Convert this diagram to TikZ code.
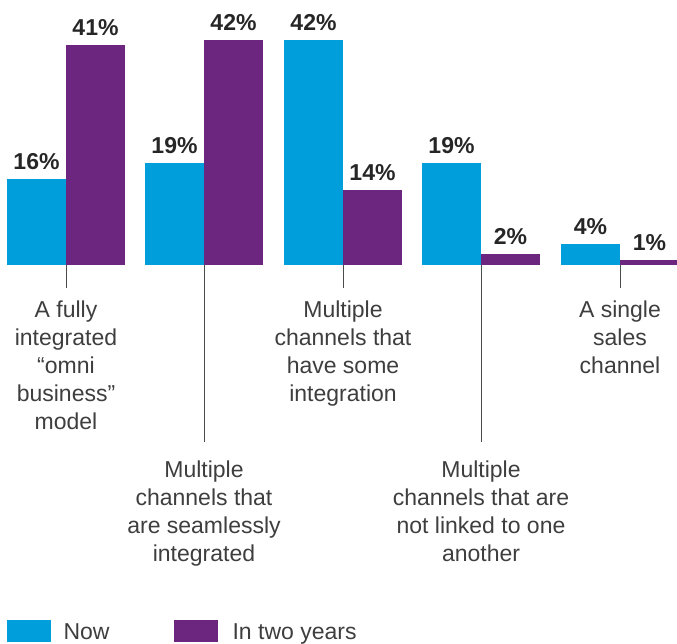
\documentclass[tikz,border=0pt]{standalone}
\usepackage{fontspec}
\setmainfont{Liberation Sans}
\usetikzlibrary{positioning}
\definecolor{nowblue}{RGB}{0,158,219}
\definecolor{laterpurple}{RGB}{109,38,128}
\definecolor{txtgray}{RGB}{62,62,62}
\tikzset{bar/.style={anchor=south west,inner sep=0pt,outer sep=0pt,minimum width=59pt,minimum height=#1*5.357pt}}
\tikzset{nowbar/.style={bar=#1,fill=nowblue}}
\tikzset{laterbar/.style={bar=#1,fill=laterpurple}}
\tikzset{pct/.style={inner sep=0pt,font=\fontsize{23}{28}\selectfont\bfseries,text=black!85}}
\tikzset{cat/.style={inner sep=0pt,align=center,font=\fontsize{23}{28}\selectfont,text=txtgray}}
\tikzset{leader/.style={draw=black!70,line width=1pt}}
\tikzset{keybox/.style={anchor=north west,inner sep=0pt,minimum width=44pt,minimum height=22pt}}
\tikzset{keytext/.style={inner sep=0pt,font=\fontsize{23}{28}\selectfont,text=txtgray,text height=17pt,text depth=0pt}}

\begin{document}
\begin{tikzpicture}[x=1pt,y=-1pt]
\useasboundingbox (0,0) rectangle (677,644);

% bars
\node[nowbar=16] (n1) at (7,265) {};
\node[laterbar=41] (t1) at (66,265) {};
\node[nowbar=19] (n2) at (145,265) {};
\node[laterbar=42] (t2) at (204,265) {};
\node[nowbar=42] (n3) at (284,265) {};
\node[laterbar=14] (t3) at (343,265) {};
\node[nowbar=19] (n4) at (422,265) {};
\node[laterbar=2] (t4) at (481,265) {};
\node[nowbar=4] (n5) at (561,265) {};
\node[laterbar=1] (t5) at (620,265) {};

% values
\node[pct,above=9pt of n1] (pn1) {16\%};
\node[pct,above=9pt of t1] (pt1) {41\%};
\node[pct,above=9pt of n2] (pn2) {19\%};
\node[pct,above=9pt of t2] (pt2) {42\%};
\node[pct,above=9pt of n3] (pn3) {42\%};
\node[pct,above=9pt of t3] (pt3) {14\%};
\node[pct,above=9pt of n4] (pn4) {19\%};
\node[pct,above=9pt of t4] (pt4) {2\%};
\node[pct,above=9pt of n5] (pn5) {4\%};
\node[pct,above=9pt of t5] (pt5) {1\%};

% categories
\coordinate (e1) at (66,288);
\coordinate (e2) at (204,442);
\coordinate (e3) at (343,288);
\coordinate (e4) at (481,442);
\coordinate (e5) at (620,288);
\draw[leader] (t1.south west) -- (e1);
\draw[leader] (t2.south west) -- (e2);
\draw[leader] (t3.south west) -- (e3);
\draw[leader] (t4.south west) -- (e4);
\draw[leader] (t5.south west) -- (e5);
\node[cat,below=13pt of e1] (c1) {A fully\\integrated\\“omni\\business”\\model};
\node[cat,below=19pt of e2] (c2) {Multiple\\channels that\\are seamlessly\\integrated};
\node[cat,below=13pt of e3] (c3) {Multiple\\channels that\\have some\\integration};
\node[cat,below=19pt of e4] (c4) {Multiple\\channels that are\\not linked to one\\another};
\node[cat,below=13pt of e5] (c5) {A single\\sales\\channel};

% legend
\node[keybox,fill=nowblue] (k1) at (7,620) {};
\node[keytext,right=12pt of k1] (k1t) {Now};
\node[keybox,fill=laterpurple] (k2) at (174,620) {};
\node[keytext,right=14pt of k2] (k2t) {In two years};
\end{tikzpicture}
\end{document}
